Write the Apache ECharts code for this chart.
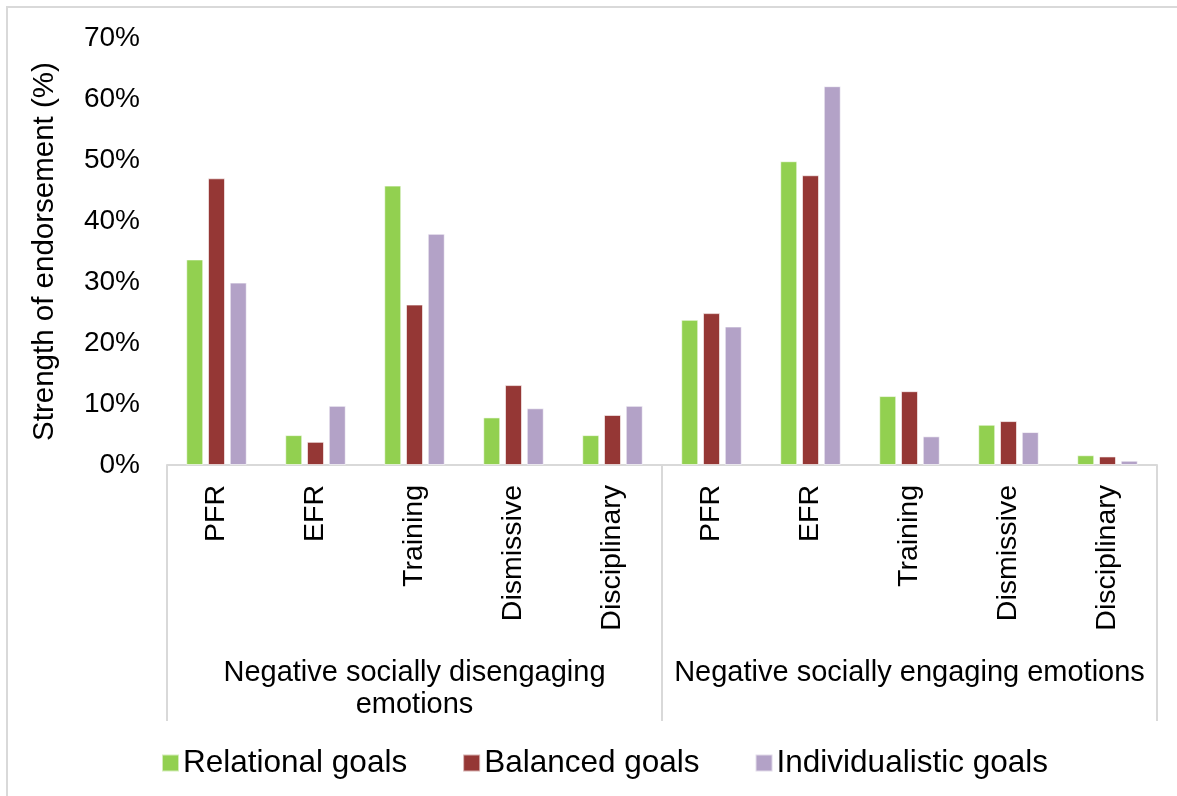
<!DOCTYPE html>
<html>
<head>
<meta charset="utf-8">
<script src="https://cdn.jsdelivr.net/npm/echarts@6/dist/echarts.min.js"></script>
<style>
html,body{margin:0;padding:0;background:#fff;}
#chart{width:1177px;height:796px;}
</style>
</head>
<body>
<div id="chart"></div>
<script>
const categories = ['PFR','EFR','Training','Dismissive','Disciplinary','PFR','EFR','Training','Dismissive','Disciplinary'];
const groups = ['Negative socially disengaging\nemotions', 'Negative socially engaging emotions'];
const relational = [33.7, 4.9, 45.8, 7.8, 4.9, 23.8, 49.8, 11.3, 6.6, 1.6];
const balanced = [47.0, 3.8, 26.3, 13.1, 8.2, 24.9, 47.5, 12.1, 7.2, 1.4];
const individualistic = [29.9, 9.7, 37.9, 9.3, 9.7, 22.7, 62.1, 4.7, 5.4, 0.7];
const seriesNames = ['Relational goals', 'Balanced goals', 'Individualistic goals'];
const yTicks = {min: 0, max: 70, interval: 10};

const FONT = '"Liberation Sans", Arial, sans-serif';
const colors = ['#92d050', '#953735', '#b3a2c7'];
const chart = echarts.init(document.getElementById('chart'), null, {renderer: 'canvas'});

function bar(name, data, color) {
  return {
    name: name, type: 'bar', data: data, xAxisIndex: 0,
    barWidth: 17, barGap: '28%',
    itemStyle: {color: color, borderColor: 'rgba(255,255,255,0.6)', borderWidth: 1},
    emphasis: {disabled: true}
  };
}

chart.setOption({
  animation: false,
  backgroundColor: '#fff',
  graphic: [{
    type: 'rect', shape: {x: 7, y: 7, width: 1200, height: 820},
    style: {fill: 'none', stroke: '#d9d9d9', lineWidth: 2}, silent: true, z: -1
  }],
  grid: {left: 167, right: 20, top: 38, bottom: 331, containLabel: false},
  legend: {
    data: seriesNames, left: 156, top: 742,
    itemWidth: 17, itemHeight: 17, itemGap: 55,
    icon: 'rect',
    textStyle: {fontFamily: FONT, fontSize: 31.5, color: '#000', padding: [0, 0, 0, -1]}
  },
  xAxis: [{
    type: 'category', data: categories, position: 'bottom',
    axisLine: {show: true, lineStyle: {color: '#d9d9d9', width: 2}},
    axisTick: {show: false},
    axisLabel: {rotate: 90, margin: 20, fontFamily: FONT, fontSize: 28.5, color: '#000', interval: 0}
  }, {
    type: 'category', data: groups, position: 'bottom',
    axisLine: {show: false},
    axisTick: {show: true, length: 256, lineStyle: {color: '#d9d9d9', width: 2}},
    axisLabel: {margin: 192, fontFamily: FONT, fontSize: 29, color: '#000', lineHeight: 32, interval: 0, align: 'center'}
  }],
  yAxis: {
    type: 'value', min: yTicks.min, max: yTicks.max, interval: yTicks.interval,
    name: 'Strength of endorsement (%)', nameLocation: 'middle', nameGap: 107,
    nameTextStyle: {fontFamily: FONT, fontSize: 29.5, color: '#000'},
    axisLine: {show: false}, axisTick: {show: false}, splitLine: {show: false},
    axisLabel: {formatter: '{value}%', margin: 27, fontFamily: FONT, fontSize: 28, color: '#000'}
  },
  series: [
    bar(seriesNames[0], relational, colors[0]),
    bar(seriesNames[1], balanced, colors[1]),
    bar(seriesNames[2], individualistic, colors[2])
  ]
});
</script>
</body>
</html>
